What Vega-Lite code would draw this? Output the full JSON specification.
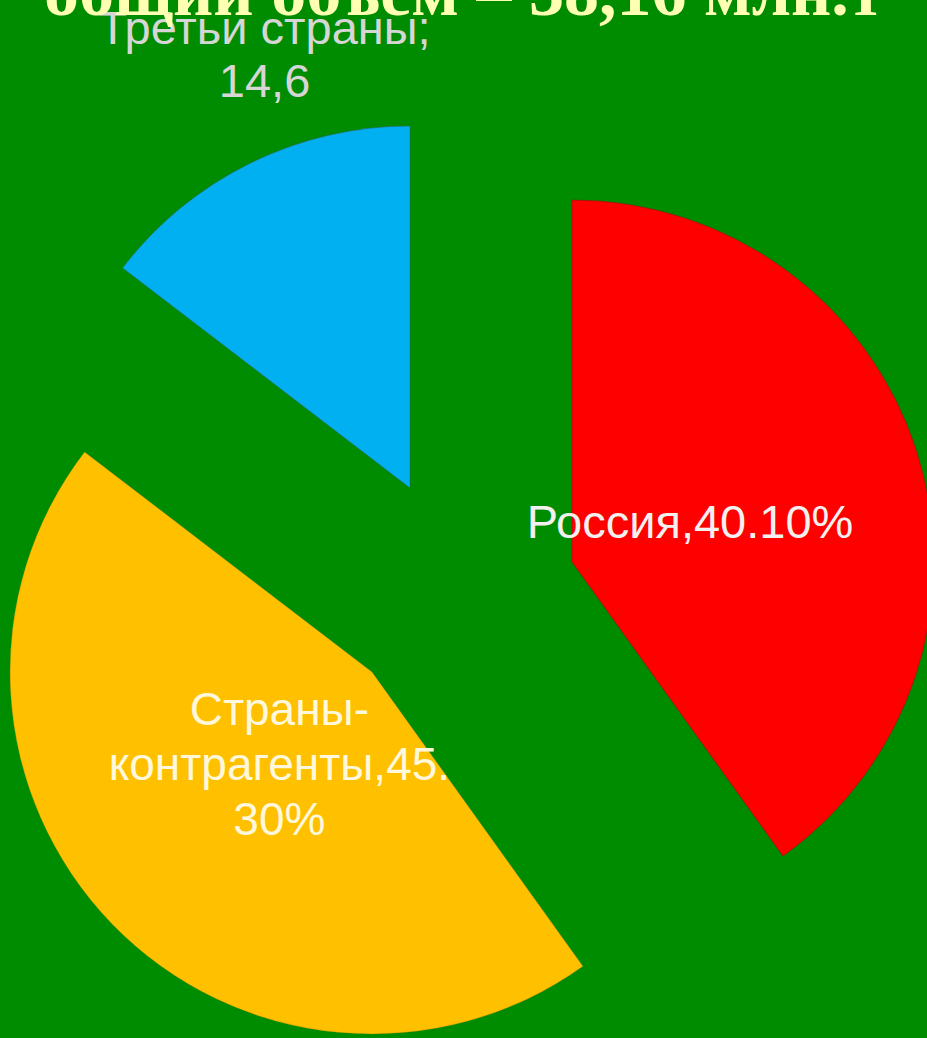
{
  "$schema": "https://vega.github.io/schema/vega-lite/v6.json",
  "width": 927,
  "height": 882,
  "autosize": {"type": "none"},
  "padding": {"top": 156, "left": 0, "right": 0, "bottom": 0},
  "background": "#008C00",
  "config": {"view": {"stroke": null}},
  "title": {
    "text": "общий объем – 38,16 млн.т",
    "font": "Liberation Serif",
    "fontWeight": "bold",
    "fontSize": 70,
    "color": "#FFFFB3",
    "anchor": "middle",
    "baseline": "alphabetic",
    "offset": -79
  },
  "data": {
    "values": [
      {"region": "Россия", "share": 40.1, "label": "Россия,40.10%"},
      {"region": "Страны-контрагенты", "share": 45.3, "label": "Страны-\nконтрагенты,45.\n30%"},
      {"region": "Третьи страны", "share": 14.6, "label": "Третьи страны;\n14,6"}
    ]
  },
  "encoding": {
    "theta": {"field": "share", "type": "quantitative", "stack": true}
  },
  "layer": [
    {
      "mark": {"type": "arc", "outerRadius": 362, "xOffset": 108.5, "yOffset": -35, "stroke": "#6b1a1a", "strokeWidth": 0.8, "strokeOpacity": 0.6},
      "encoding": {
        "color": {"field": "region", "type": "nominal", "scale": {"domain": ["Россия", "Страны-контрагенты", "Третьи страны"], "range": ["#FF0000", "#FFC000", "#00B0F0"]}, "legend": null},
        "opacity": {"condition": {"test": "datum.region === 'Россия'", "value": 1}, "value": 0}
      }
    },
    {
      "mark": {"type": "arc", "outerRadius": 362, "xOffset": -91.5, "yOffset": 75, "stroke": "#8a6a00", "strokeWidth": 0.6, "strokeOpacity": 0.4},
      "encoding": {
        "color": {"field": "region", "type": "nominal", "legend": null},
        "opacity": {"condition": {"test": "datum.region === 'Страны-контрагенты'", "value": 1}, "value": 0}
      }
    },
    {
      "mark": {"type": "arc", "outerRadius": 362, "xOffset": -53.5, "yOffset": -109, "stroke": "#3a5a70", "strokeWidth": 0.8, "strokeOpacity": 0.6},
      "encoding": {
        "color": {"field": "region", "type": "nominal", "legend": null},
        "opacity": {"condition": {"test": "datum.region === 'Третьи страны'", "value": 1}, "value": 0}
      }
    },
    {
      "mark": {"type": "text", "radius": 124, "xOffset": 108.5, "yOffset": -35, "font": "Liberation Sans", "fontSize": 47, "color": "#F4F0F0", "align": "center", "baseline": "middle", "lineBreak": "\n", "lineHeight": 54},
      "encoding": {
        "detail": {"field": "region", "type": "nominal"},
        "text": {"field": "label"},
        "opacity": {"condition": {"test": "datum.region === 'Россия'", "value": 1}, "value": 0}
      }
    },
    {
      "mark": {"type": "text", "radius": 129, "xOffset": -91.5, "yOffset": 24, "font": "Liberation Sans", "fontSize": 46, "color": "#FFF8DC", "align": "center", "baseline": "middle", "lineBreak": "\n", "lineHeight": 55},
      "encoding": {
        "detail": {"field": "region", "type": "nominal"},
        "text": {"field": "label"},
        "opacity": {"condition": {"test": "datum.region === 'Страны-контрагенты'", "value": 1}, "value": 0}
      }
    },
    {
      "mark": {"type": "text", "radius": 455, "xOffset": 2.5, "yOffset": -159, "font": "Liberation Sans", "fontSize": 47, "color": "#D6D6D6", "align": "center", "baseline": "middle", "lineBreak": "\n", "lineHeight": 53},
      "encoding": {
        "detail": {"field": "region", "type": "nominal"},
        "text": {"field": "label"},
        "opacity": {"condition": {"test": "datum.region === 'Третьи страны'", "value": 1}, "value": 0}
      }
    }
  ]
}
